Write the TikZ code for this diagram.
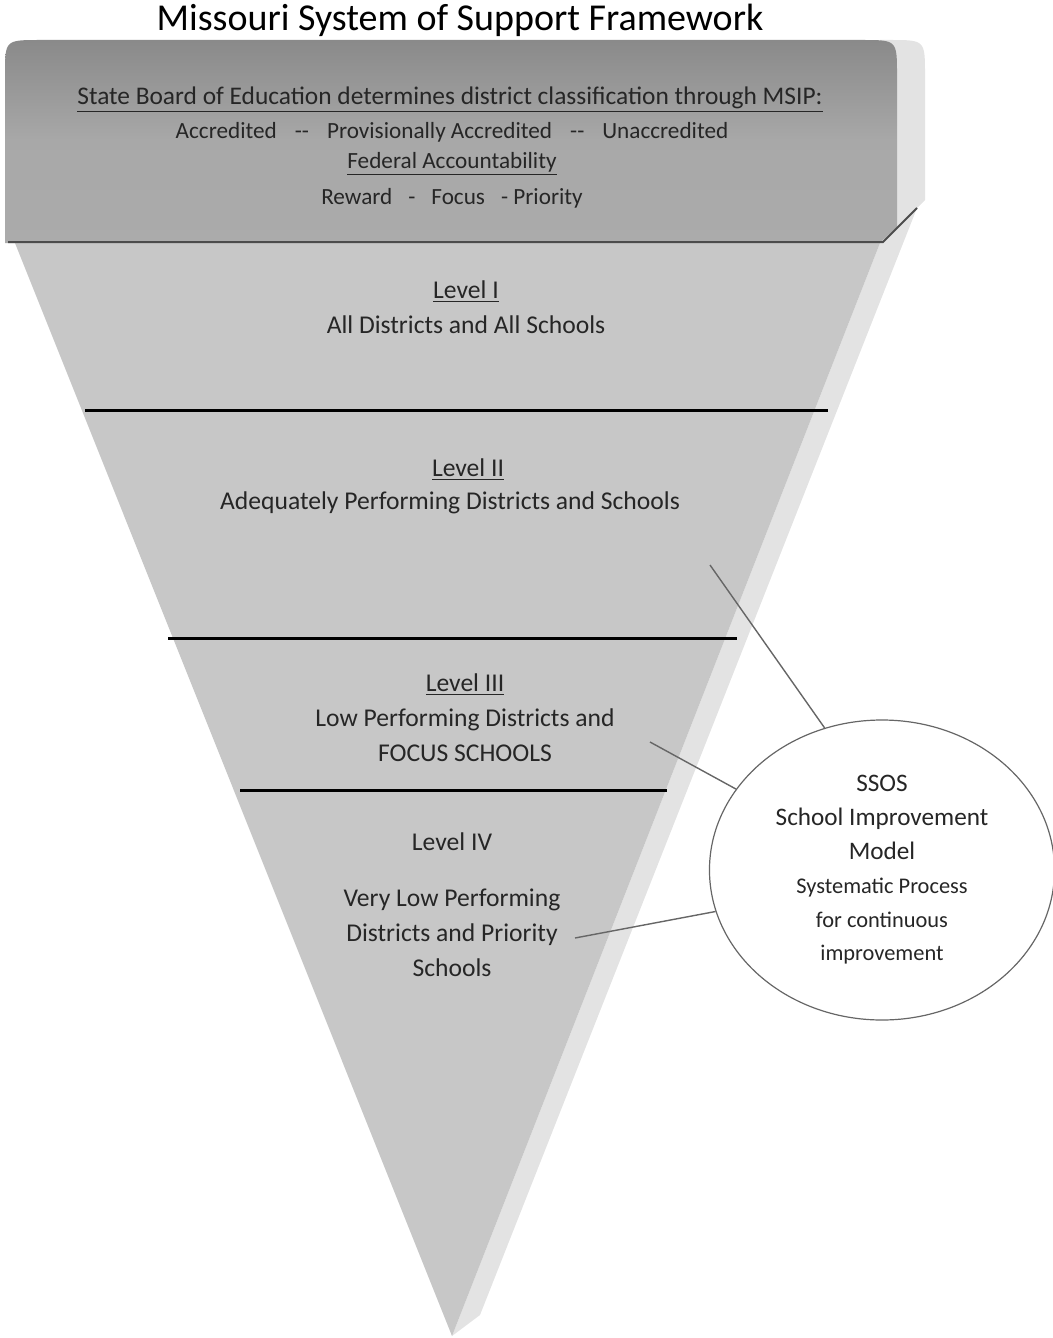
\documentclass[tikz,border=0pt]{standalone}
\usepackage{fontspec}
\setmainfont{Carlito}
\usetikzlibrary{shapes.geometric}

\tikzset{
  bandfill/.style={top color=black!46, bottom color=black!33, middle color=black!34},
  trifill/.style={fill=black!22},
  shadefill/.style={fill=black!11},
  levelline/.style={line width=1.5pt, black},
  link/.style={draw=black!60, line width=0.7pt},
  txt/.style={text=black!85, inner sep=1pt, font=\fontsize{12.8}{15}\selectfont},
  small/.style={txt, font=\fontsize{11.6}{14}\selectfont},
  ssosbox/.style={ellipse, draw=black!60, line width=0.6pt, fill=white,
    minimum width=171pt, minimum height=150pt, inner sep=0pt,
    text width=122pt, align=flush center, text=black!85, font=\fontsize{11.2}{16.9}\selectfont}
}

\begin{document}
\begin{tikzpicture}[x=0.5pt, y=-0.5pt]
    \useasboundingbox (0,0) rectangle (1053,1338);

    % header band and pyramid
    \fill[shadefill] (880,243) -- (917,208) -- (925,200) -- (925,75) .. controls (925,40) .. (890,40) -- (880,40) -- cycle;
    \shade[bandfill] (5,243) -- (5,75) .. controls (5,40) .. (40,40) -- (862,40) .. controls (897,40) .. (897,75) -- (897,243) -- cycle;
    \fill[shadefill] (880,243) -- (917,208) -- (480,1315) -- (452,1336) -- cycle;
    \fill[trifill] (15,243) -- (880,243) -- (452,1336) -- cycle;
    \draw[black!70, line width=1pt] (8,242) -- (883,242) -- (917,208);

    \draw[levelline] (85,410) -- (828,410);
    \draw[levelline] (168,638) -- (737,638);
    \draw[levelline] (240,790) -- (667,790);

    \node (title) at (460,20) {\fontsize{19}{22}\selectfont Missouri System of Support Framework};

    \node[txt, font=\fontsize{12.7}{15}\selectfont] (msip) at (450,100) {\underline{State Board of Education determines district classification through MSIP:}};
    \node[small] (accr) at (452,132) {Accredited\hspace{9pt}{-}{-}\hspace{9pt}Provisionally Accredited\hspace{9pt}{-}{-}\hspace{9pt}Unaccredited};
    \node[small] (fed) at (452,164) {\underline{Federal Accountability}};
    \node[small] (rfp) at (452,198) {Reward\hspace{8pt}-\hspace{8pt}Focus\hspace{8pt}- Priority};

    \node[txt] (l1) at (466,292) {\underline{Level I}};
    \node[txt] (l1t) at (466,325) {All Districts and All Schools};
    \node[txt] (l2) at (468,470) {\underline{Level II}};
    \node[txt] (l2t) at (450,503) {Adequately Performing Districts and Schools};
    \node[txt] (l3) at (465,685) {\underline{Level III}};
    \node[txt] (l3t) at (465,720) {Low Performing Districts and};
    \node[txt] (l3s) at (465,753) {FOCUS SCHOOLS};
    \node[txt] (l4) at (452,842) {Level IV};
    \node[txt, align=center, font=\fontsize{12.8}{17.5}\selectfont] (l4t) at (452,933) {Very Low Performing\\Districts and Priority\\Schools};

    \node[ssosbox] (ssos) at (882,870) {\fontsize{12.6}{16.9}\selectfont SSOS\\School Improvement\\Model\\
      \fontsize{11.2}{16.9}\selectfont Systematic Process\\for continuous\\improvement};

    \coordinate (c2) at (710,565);
    \coordinate (c3) at (650,742);
    \coordinate (c4) at (575,938);
    \draw[link] (c2) -- (ssos.112);
    \draw[link] (c3) -- (ssos.151);
    \draw[link] (c4) -- (ssos.194);
\end{tikzpicture}
\end{document}
